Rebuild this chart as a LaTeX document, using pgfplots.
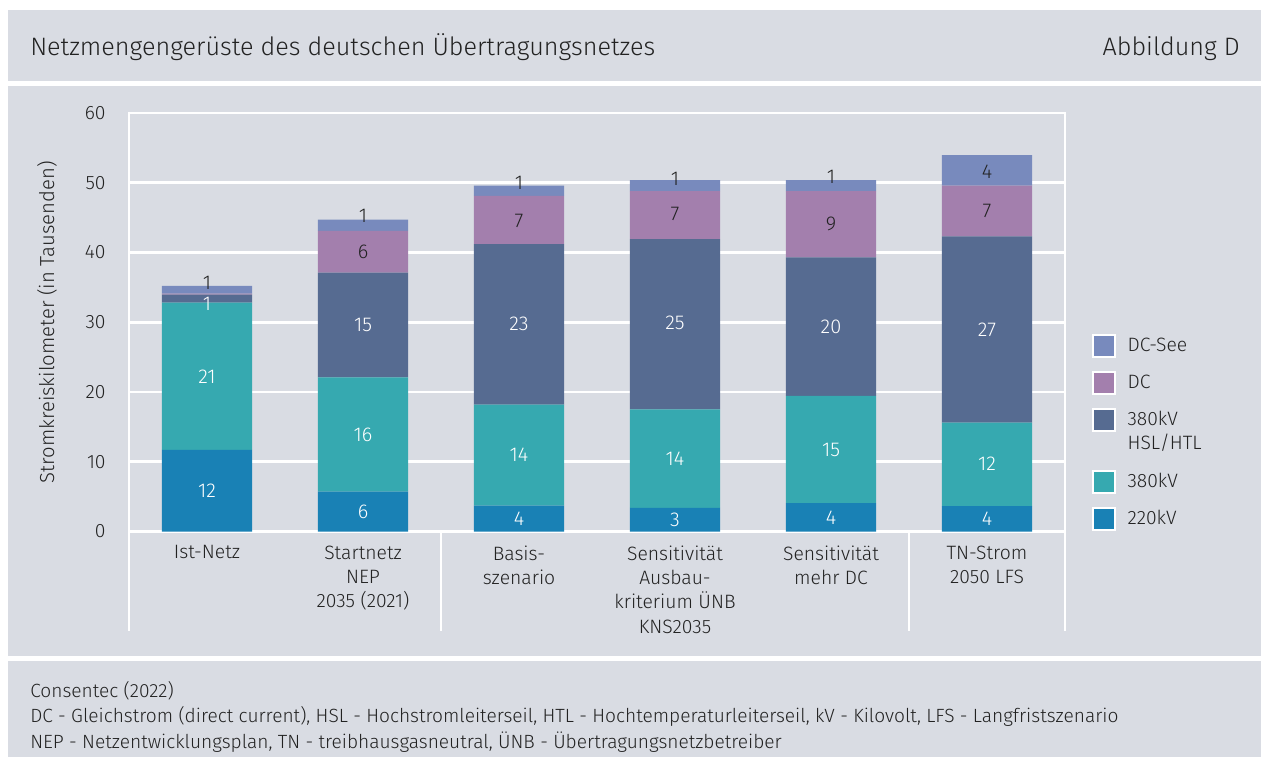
\documentclass[border=0pt]{standalone}
\usepackage{pgfplots}
\usepackage{pgfplotstable}
\pgfplotsset{compat=1.18}
\usepackage{fontspec}
\setmainfont{Fira Sans}[UprightFont=* Light]
\definecolor{bg}{HTML}{D9DCE3}
\definecolor{cA}{HTML}{1981B5}
\definecolor{cB}{HTML}{36A9B0}
\definecolor{cC}{HTML}{566B91}
\definecolor{cD}{HTML}{A37FAD}
\definecolor{cE}{HTML}{788ABD}
\definecolor{txt}{HTML}{222222}
\pgfplotstableread{
x a b c d e
0 11.7 21.1 1.15 0.15 1.1
1 5.7 16.4 15.0 6.0 1.6
2 3.7 14.5 23.0 6.9 1.5
3 3.4 14.1 24.4 6.9 1.56
4 4.06 15.4 19.85 9.5 1.55
5 3.63 11.97 26.7 7.3 4.35
}\data
\pgfplotstableread{
x y lab
0 5.85 12
0 22.25 21
0 32.7 1
1 2.85 6
1 13.9 16
1 29.6 15
2 1.85 4
2 10.95 14
2 29.7 23
3 1.7 3
3 10.45 14
3 29.9 25
4 2.03 4
4 11.76 15
4 29.3 20
5 1.8 4
5 9.7 12
5 28.95 27
}\labw
\pgfplotstableread{
x y lab
0 35.7 1
1 40.1 6
1 45.2 1
2 44.5 7
2 50.0 1
3 45.5 7
3 50.5 1
4 44.1 9
4 50.8 1
5 46.0 7
5 51.6 4
}\labd
\newcommand{\lt}[1]{\raisebox{-5.2pt}[0pt][0pt]{#1}}
\pgfplotsset{
  overlay/.style={at={(129*0.75pt,-531.5*0.75pt)}, anchor=south west,
    scale only axis, width=702pt, height=313.9pt,
    xmin=-0.5, xmax=5.5, ymin=0, ymax=60},
  mylegend/.style={draw=none, fill=none, inner sep=0pt, row sep=9.75pt, font=\fontsize{14.5}{18}\selectfont, text=txt, nodes={inner sep=0pt}, /tikz/every odd column/.append style={column sep=8.5pt}},
  sqimage/.style={legend image code/.code={\draw[##1, draw=white, line width=1.5pt] (0.75pt,-8.25pt) rectangle (17.25pt,8.25pt);}},
}
\begin{document}
\begin{tikzpicture}
\begin{scope}[x=0.75pt,y=-0.75pt]
\fill[white] (0,0) rectangle (1261,757);
\fill[bg] (8,10) rectangle (1261,757);
\fill[white] (8,81) rectangle (1261,85.5);
\fill[white] (8,655.5) rectangle (1261,660.5);
\node[anchor=base west, inner sep=0, font=\fontsize{18.9}{22}\selectfont, text=txt] at (30,55) {Netzmengengerüste des deutschen Übertragungsnetzes};
\node[anchor=base east, inner sep=0, font=\fontsize{18.9}{22}\selectfont, text=txt] at (1240,55) {Abbildung D};
\node[anchor=base west, inner sep=0, font=\fontsize{14.35}{18}\selectfont, text=txt] at (30,697) {Consentec (2022)};
\node[anchor=base west, inner sep=0, font=\fontsize{14.35}{18}\selectfont, text=txt] at (30,722) {DC - Gleichstrom (direct current), HSL - Hochstromleiterseil, HTL - Hochtemperaturleiterseil, kV - Kilovolt, LFS - Langfristszenario};
\node[anchor=base west, inner sep=0, font=\fontsize{14.35}{18}\selectfont, text=txt] at (30,748) {NEP - Netzentwicklungsplan, TN - treibhausgasneutral, ÜNB - Übertragungsnetzbetreiber};
\end{scope}
\begin{axis}[
  overlay,
  ybar stacked, bar width=0.58,
  ytick={0,10,...,60},
  xtick={0,...,5},
  xticklabels={{Ist-Netz},{Startnetz\\NEP\\2035 (2021)},{Basis-\\szenario},{Sensitivität\\Ausbau-\\kriterium ÜNB\\KNS2035},{Sensitivität\\mehr DC},{TN-Strom\\2050 LFS}},
  xticklabel style={align=center, font=\fontsize{14.5}{18.3}\selectfont, text=txt, anchor=north, yshift=-7pt},
  yticklabel style={font=\fontsize{14.5}{18}\selectfont, text=txt, anchor=east, xshift=-14pt},
  /pgf/number format/assume math mode=true,
  ymajorgrids, grid style={white, line width=2pt},
  axis line style={white, line width=2pt},
  major tick length=0pt,
  clip=false,
  ylabel={Stromkreiskilometer (in Tausenden)},
  every axis y label/.style={at={(axis description cs:-0.0876,0.5)}, rotate=90, anchor=center, font=\fontsize{15.2}{18}\selectfont, text=txt},
]
\addplot[fill=cA, draw=none] table[x=x,y=a]{\data};
\addplot[fill=cB, draw=none] table[x=x,y=b]{\data};
\addplot[fill=cC, draw=none] table[x=x,y=c]{\data};
\addplot[fill=cD, draw=none] table[x=x,y=d]{\data};
\addplot[fill=cE, draw=none] table[x=x,y=e]{\data};
\draw[white, line width=2pt] (axis cs:-0.5,0) -- ([yshift=-74.25pt]axis cs:-0.5,0);
\draw[white, line width=2pt] (axis cs:1.5,0) -- ([yshift=-74.25pt]axis cs:1.5,0);
\draw[white, line width=2pt] (axis cs:4.5,0) -- ([yshift=-74.25pt]axis cs:4.5,0);
\draw[white, line width=2pt] (axis cs:5.5,0) -- ([yshift=-74.25pt]axis cs:5.5,0);
\end{axis}
\begin{axis}[
  overlay, hide axis, clip=false,
  legend style={mylegend, at={(axis description cs:1.0288,0.4726)}, anchor=north west},
  legend cell align=left,
  sqimage,
]
\addlegendimage{fill=cE}
\addlegendimage{fill=cD}
\addlegendimage{fill=cC}
\addplot[forget plot, only marks, mark=none, draw=none, point meta=explicit symbolic, nodes near coords, nodes near coords style={anchor=center, text=white, font=\fontsize{15}{18}\selectfont}] table[x=x,y=y,meta=lab]{\labw};
\legend{\lt{DC-See},\lt{DC},{\lt{\vtop{\hbox{380kV}\hbox{HSL/HTL}}}}}
\end{axis}
\begin{axis}[
  overlay, hide axis, clip=false,
  legend style={mylegend, at={(axis description cs:1.0288,0.1477)}, anchor=north west},
  legend cell align=left,
  sqimage,
]
\addlegendimage{fill=cB}
\addlegendimage{fill=cA}
\addplot[forget plot, only marks, mark=none, draw=none, point meta=explicit symbolic, nodes near coords, nodes near coords style={anchor=center, text=txt, font=\fontsize{15}{18}\selectfont}] table[x=x,y=y,meta=lab]{\labd};
\legend{\lt{380kV},\lt{220kV}}
\end{axis}
\end{tikzpicture}
\end{document}
